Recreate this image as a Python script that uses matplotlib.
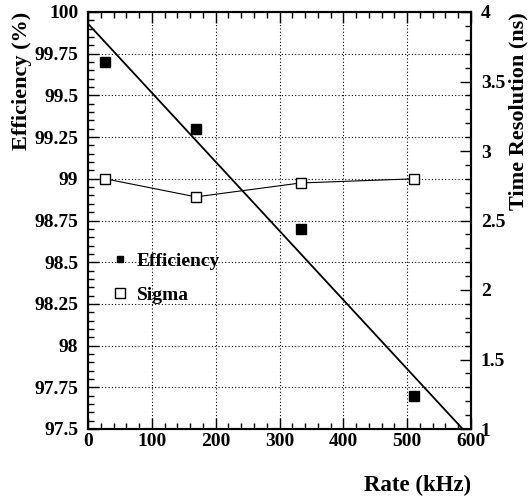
import numpy as np
import matplotlib.pyplot as plt
from matplotlib.ticker import MultipleLocator

# data
rate = [27, 169, 333, 511]                   # kHz
efficiency = [99.70, 99.30, 98.70, 97.70]    # %
sigma = [2.80, 2.67, 2.77, 2.80]             # ns (right axis)

# straight-line fit to efficiency
fit_intercept = 99.93
fit_slope = -0.00414

plt.rcParams['font.family'] = ['Liberation Serif', 'DejaVu Serif']
plt.rcParams['font.weight'] = 'bold'

W, H = 529, 500
fig = plt.figure(figsize=(W / 100, H / 100), dpi=100)
ax = fig.add_axes([88 / W, 1 - 429 / H, 383 / W, 417 / H])
ax2 = ax.twinx()

# fit line, drawn until it leaves the frame
x_end = (97.5 - fit_intercept) / fit_slope
xf = np.array([0, x_end])
ax.plot(xf, fit_intercept + fit_slope * xf, color='black', lw=1.3, zorder=3)

ax.plot(rate, efficiency, 's', color='black', ms=7, ls='none', zorder=4)
ax2.plot(rate, sigma, '-', color='black', lw=0.8, zorder=3)
ax2.plot(rate, sigma, 's', mfc='white', mec='black', mew=1.0, ms=7.5,
         ls='none', zorder=4)

ax.set_xlim(0, 600)
ax.set_ylim(97.5, 100)
ax2.set_ylim(1, 4)

ax.xaxis.set_major_locator(MultipleLocator(100))
ax.xaxis.set_minor_locator(MultipleLocator(20))
ax.yaxis.set_major_locator(MultipleLocator(0.25))
ax.yaxis.set_minor_locator(MultipleLocator(0.05))
ax2.yaxis.set_major_locator(MultipleLocator(0.5))
ax2.yaxis.set_minor_locator(MultipleLocator(0.1))

fmt = plt.FuncFormatter(lambda v, p: '%g' % round(v, 2))
ax.yaxis.set_major_formatter(fmt)
ax2.yaxis.set_major_formatter(fmt)

ax.tick_params(axis='x', which='both', direction='in', top=True, labelsize=14, pad=3)
ax.tick_params(axis='y', which='both', direction='in', right=False, labelsize=14, pad=7)
ax2.tick_params(axis='y', which='both', direction='in', labelsize=14, pad=7)
for a in (ax, ax2):
    a.tick_params(which='major', length=8, width=1)
    a.tick_params(which='minor', length=4, width=1)
    for s in a.spines.values():
        s.set_linewidth(1.5)

ax.grid(True, which='major', color='black', ls=(0, (1, 2)), lw=0.8)
ax.set_axisbelow(True)

# axis titles (right/top aligned like ROOT)
fig.text(22 / W, 1 - 12 / H, 'Efficiency (%)', rotation=90, ha='center', va='top',
         fontsize=16, fontweight='bold')
fig.text(518 / W, 1 - 12 / H, 'Time Resolution (ns)', rotation=90, ha='center', va='top',
         fontsize=16, fontweight='bold')
fig.text(471 / W, 1 - 485 / H, 'Rate (kHz)', ha='right', va='center',
         fontsize=16.5, fontweight='bold')

# legend
h_eff = plt.Line2D([], [], marker='s', color='black', ms=4.5, ls='none')
h_sig = plt.Line2D([], [], marker='s', mfc='white', mec='black', mew=1.0, ms=6.5, ls='none')
ax.legend([h_eff, h_sig], ['Efficiency', 'Sigma'], loc='center left',
          bbox_to_anchor=(0.052, 0.362), frameon=False, fontsize=14,
          borderpad=0, borderaxespad=0, handletextpad=0.3,
          labelspacing=0.85, handlelength=1.2)

fig.savefig('out.png', dpi=100)
